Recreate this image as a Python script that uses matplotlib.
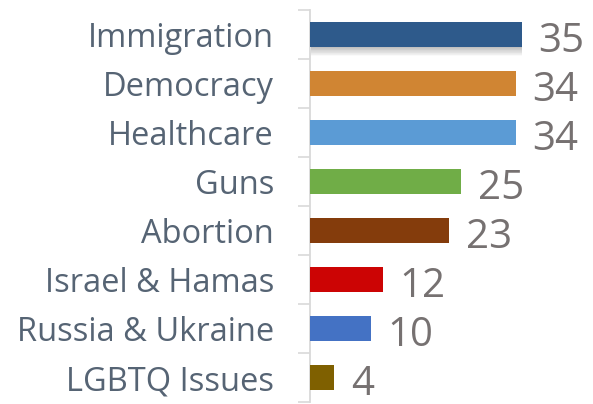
import matplotlib
matplotlib.use("Agg")
import matplotlib.pyplot as plt
import matplotlib.patheffects as pe
import numpy as np

categories = ["Immigration", "Democracy", "Healthcare", "Guns", "Abortion",
              "Israel & Hamas", "Russia & Ukraine", "LGBTQ Issues"]
values = [35, 34, 34, 25, 23, 12, 10, 4]
colors = ["#2E5A8B", "#D08533", "#5B9BD5", "#70AD47", "#843C0C",
          "#CC0404", "#4472C4", "#7F6000"]

plt.rcParams['font.family'] = ['Open Sans', 'DejaVu Sans']

W, H = 593, 404
fig = plt.figure(figsize=(W / 100, H / 100), dpi=100)
px_per_unit = 6.05
xmax = 45
ax = fig.add_axes([310 / W, 2 / H, px_per_unit * xmax / W, 392 / H])

y = np.arange(len(categories))
bars = ax.barh(y, values, height=0.51, color=colors, zorder=3)

# soft shadow under the first bar
shadow_effects = [pe.SimplePatchShadow(offset=(0.5, -k), shadow_rgbFace='#000000', alpha=0.018)
                  for k in np.arange(0.5, 7.0, 0.5)] + [pe.Normal()]
bars[0].set_path_effects(shadow_effects)

ax.set_xlim(0, xmax)
ax.set_ylim(len(categories) - 0.5, -0.5)

for yi, v in zip(y, values):
    ax.annotate(str(v), xy=(v, yi), xytext=(12, -12.5), textcoords='offset points',
                ha='left', va='baseline', fontsize=29, color='#767171')

ax.set_yticks(y)
ax.set_yticklabels(categories, fontsize=23.5, color='#566474')
ax.tick_params(axis='y', which='major', length=0, pad=26)
ax.set_yticks(np.arange(-0.5, len(categories)), minor=True)
ax.tick_params(axis='y', which='minor', length=8.5, width=1.2, color='#D9D9D9')
ax.set_xticks([])

for s in ['top', 'right', 'bottom']:
    ax.spines[s].set_visible(False)
ax.spines['left'].set_color('#D9D9D9')
ax.spines['left'].set_linewidth(1.3)

fig.savefig("out.png", dpi=100)
